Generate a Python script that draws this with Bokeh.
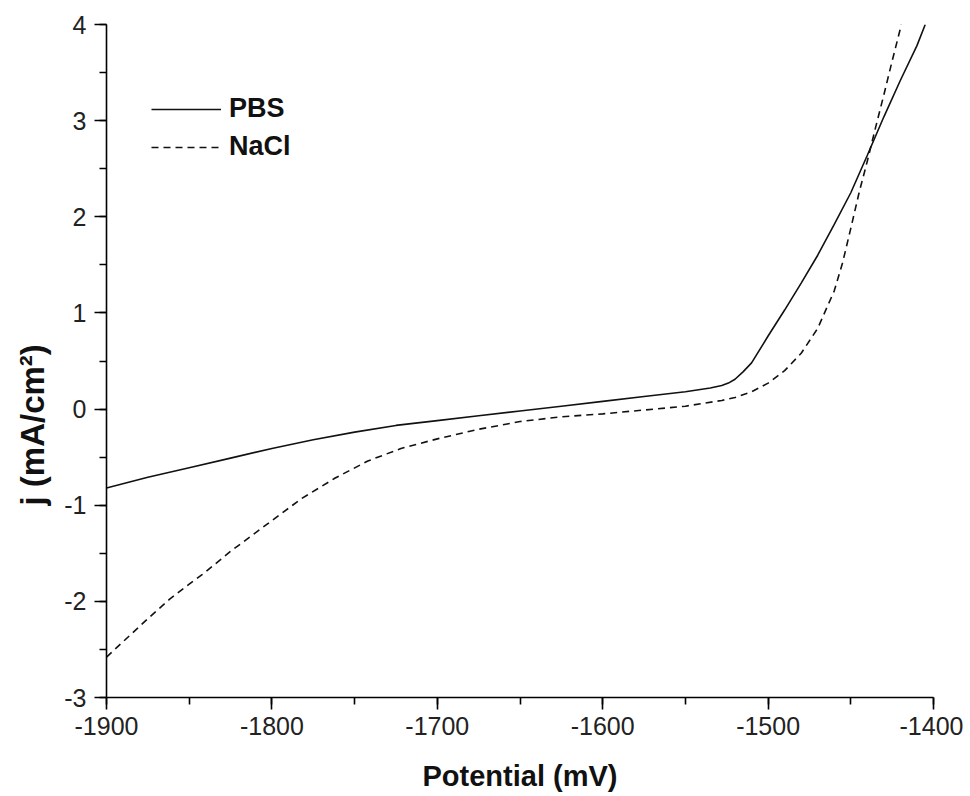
from bokeh.plotting import figure
from bokeh.models import Range1d, SingleIntervalTicker, Legend, LegendItem, CustomJSTickFormatter, Title
from bokeh.embed import file_html
from bokeh.resources import INLINE

# Data
pbs_potential = [-1900, -1875, -1850, -1825, -1800, -1775, -1750, -1725, -1700, -1675,
                 -1650, -1625, -1600, -1575, -1550, -1535, -1528, -1524, -1520, -1515, -1510,
                 -1500, -1490, -1480, -1470, -1460, -1450, -1440, -1430, -1420, -1410, -1405]
pbs_current = [-0.82, -0.71, -0.61, -0.51, -0.41, -0.32, -0.24, -0.17, -0.12, -0.07,
               -0.02, 0.03, 0.08, 0.13, 0.18, 0.22, 0.245, 0.27, 0.31, 0.39, 0.48,
               0.76, 1.03, 1.31, 1.60, 1.92, 2.25, 2.64, 3.04, 3.42, 3.78, 4.0]

nacl_potential = [-1900, -1890, -1875, -1862, -1850, -1842, -1825, -1800, -1782, -1762,
                  -1742, -1722, -1700, -1690, -1675, -1650, -1625, -1600, -1575, -1550,
                  -1528, -1520, -1510, -1500, -1490, -1480, -1470, -1460, -1455, -1450,
                  -1445, -1440, -1435, -1430, -1425, -1420, -1419.5]
nacl_current = [-2.58, -2.42, -2.18, -1.98, -1.82, -1.72, -1.48, -1.16, -0.93, -0.72,
                -0.54, -0.41, -0.31, -0.27, -0.21, -0.13, -0.08, -0.05, -0.01, 0.03,
                0.09, 0.12, 0.18, 0.27, 0.40, 0.58, 0.84, 1.23, 1.52, 1.88,
                2.25, 2.58, 2.93, 3.27, 3.62, 3.96, 4.0]

series_labels = ["PBS", "NaCl"]
x_label = "Potential (mV)"
y_label = "j (mA/cm²)"

FONT = "Liberation Sans"

p = figure(frame_width=827, frame_height=673, output_backend="svg", toolbar_location=None,
           x_range=Range1d(-1900, -1400), y_range=Range1d(-3, 4),
           min_border_left=105, min_border_top=24, min_border_right=30, min_border_bottom=85)
p.outline_line_color = None
p.xgrid.visible = False
p.ygrid.visible = False
p.background_fill_color = "white"
p.border_fill_color = "white"

r1 = p.line(pbs_potential, pbs_current, line_color="#111111", line_width=1.6)
r2 = p.line(nacl_potential, nacl_current, line_color="#111111", line_width=1.6, line_dash="7 5")

fmt_code = "return String(tick);"
for ax, ticker in ((p.xaxis[0], SingleIntervalTicker(interval=100, num_minor_ticks=2)),
                   (p.yaxis[0], SingleIntervalTicker(interval=1, num_minor_ticks=2))):
    ax.ticker = ticker
    ax.formatter = CustomJSTickFormatter(code=fmt_code)
    ax.axis_line_color = "black"
    ax.axis_line_width = 1.6
    ax.major_tick_line_color = "black"
    ax.major_tick_line_width = 1.6
    ax.minor_tick_line_color = "black"
    ax.minor_tick_line_width = 1.6
    ax.major_tick_out = 12
    ax.major_tick_in = 0
    ax.minor_tick_out = 7
    ax.minor_tick_in = 0
    ax.major_label_text_font = FONT
    ax.major_label_text_font_size = "25px"
    ax.major_label_text_color = "#222222"
    ax.axis_label_text_font = FONT
    ax.axis_label_text_font_size = "29px"
    ax.axis_label_text_font_style = "bold"
    ax.axis_label_text_color = "#111111"

p.xaxis[0].axis_label = x_label
p.xaxis[0].major_label_standoff = 7
p.yaxis[0].major_label_standoff = 8
p.xaxis[0].axis_label_standoff = 22

# y-axis title, placed low along the axis as in the reference
ytitle = Title(text=y_label, align="left", offset=192, standoff=22,
               text_font=FONT, text_font_size="33px", text_font_style="bold",
               text_color="#111111")
p.add_layout(ytitle, "left")

legend = Legend(items=[LegendItem(label=series_labels[0], renderers=[r1]),
                       LegendItem(label=series_labels[1], renderers=[r2])],
                location=(45, 535), orientation="vertical")
legend.glyph_width = 70
legend.glyph_height = 30
legend.label_height = 30
legend.label_standoff = 8
legend.spacing = 7
legend.padding = 0
legend.margin = 0
legend.border_line_color = None
legend.background_fill_alpha = 0
legend.label_text_font = FONT
legend.label_text_font_size = "27px"
legend.label_text_font_style = "bold"
legend.label_text_color = "#111111"
p.add_layout(legend)

open("out.html", "w").write(file_html(p, INLINE))
